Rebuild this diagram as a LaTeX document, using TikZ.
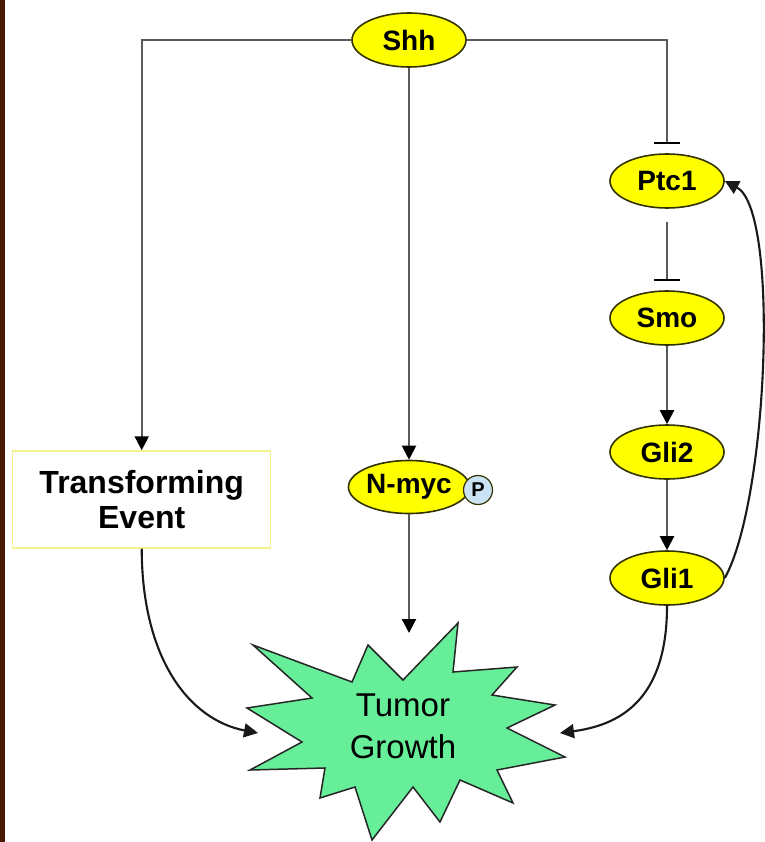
\documentclass[tikz,border=0pt]{standalone}
\usepackage{fontspec}
\setmainfont{Liberation Sans}
\usetikzlibrary{shapes.geometric,arrows.meta}
\definecolor{brd}{HTML}{4A1800}
\definecolor{ylw}{HTML}{FFFF00}
\definecolor{olv}{HTML}{333300}
\definecolor{grn}{HTML}{66EE99}
\definecolor{pblue}{HTML}{C9E3F5}
\definecolor{gline}{HTML}{5A5A5A}
\definecolor{boxy}{HTML}{F4F28C}
\begin{document}
\begin{tikzpicture}[x=1pt,y=-1pt,
 gene/.style={ellipse, draw=olv, line width=1.6pt, fill=ylw, minimum width=114pt, minimum height=54pt, inner sep=0pt, font=\fontsize{28}{30}\selectfont\bfseries},
 act/.style={draw=gline, line width=2.1pt, -{Triangle[length=14pt,width=14pt,color=black]}},
 inh/.style={draw=gline, line width=2.1pt, -{Bar[width=26pt,line width=2.2pt,color=black]}},
 cur/.style={draw=black!90, line width=2.1pt, -{Triangle[length=14pt,width=14pt]}},
 phos/.style={circle, draw=olv, line width=1.2pt, fill=pblue, minimum size=29pt, inner sep=0pt, font=\fontsize{20}{22}\selectfont\bfseries},
 evbox/.style={draw=boxy, line width=1.5pt, fill=white, minimum width=258pt, minimum height=97pt, inner sep=0pt, align=center, font=\fontsize{32}{35}\selectfont\bfseries},
 tumortext/.style={align=center, inner sep=0pt, font=\fontsize{33}{42}\selectfont}]
\useasboundingbox (0,0) rectangle (764,842);
\fill[brd] (0,0) rectangle (5,842);
% star
\draw[fill=grn, draw=black!85, line width=1.5pt, line join=miter]
 (458,623) -- (453,672) -- (517,667) -- (492,695) -- (555,705) -- (507,728)
 -- (565,757) -- (497,770) -- (513,803) -- (460,780) -- (440,822) -- (413,787)
 -- (372,840) -- (355,787) -- (320,798) -- (325,768) -- (250,770) -- (302,742)
 -- (247,708) -- (312,698) -- (253,645) -- (352,682) -- (368,645) -- (403,680) -- cycle;
\node[tumortext] (tg) at (403,726) {Tumor\\Growth};
\coordinate (tl) at (258,733);
\coordinate (tr) at (560,733);
\coordinate (tt) at (409,633);
% nodes
\node[gene] (shh) at (409,40) {Shh};
\node[gene] (ptc) at (667,181) {Ptc1};
\node[gene] (smo) at (667,318) {Smo};
\node[gene] (gli2) at (667,452) {Gli2};
\node[gene] (gli1) at (667,578) {Gli1};
\node[gene, minimum width=110pt, minimum height=53pt] (nmyc) at (409,487) {N-myc};
\node[phos] (p) at (478,490) {P};
\node[evbox] (te) at (141.7,499.5) {Transforming\\Event};
% connectors
\draw[act] (shh.west) -| (te.north);
\draw[inh, shorten >=9pt] (shh.east) -| (ptc.north);
\draw[inh, shorten <=13pt, shorten >=9pt] (ptc.south) -- (smo.north);
\draw[act] (smo) -- (gli2);
\draw[act] (gli2) -- (gli1);
\draw[act] (shh) -- (nmyc);
\draw[act] (nmyc) -- (tt);
\draw[cur] (te.south) .. controls (142,660) and (190,720) .. (tl);
\draw[cur] (gli1.south) .. controls (667,700) and (620,725) .. (tr);
\draw[cur] (gli1.east) .. controls (768,500) and (780,210) .. (ptc.east);
\end{tikzpicture}
\end{document}
